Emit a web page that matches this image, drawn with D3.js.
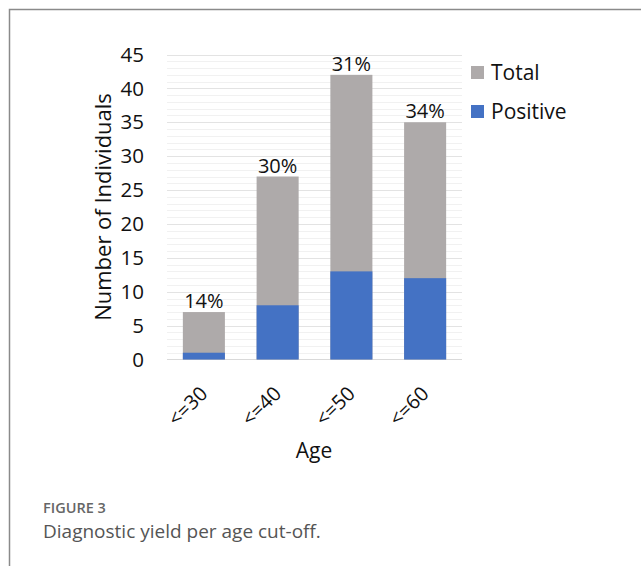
<!DOCTYPE html>
<html>
<head>
<meta charset="utf-8">
<script src="https://cdn.jsdelivr.net/npm/d3@7"></script>
<style>
  body { margin: 0; background: #fff; }
  svg { display: block; }
</style>
</head>
<body>
<div id="chart"></div>
<script>
var width = 641,
    height = 566;

// data
var ages = ["<=30", "<=40", "<=50", "<=60"];
var totals = [7, 27, 42, 35];
var positives = [1, 8, 13, 12];
var yieldLabels = ["14%", "30%", "31%", "34%"];
var yTicks = [0, 5, 10, 15, 20, 25, 30, 35, 40, 45];

var grey = "#AEAAAA",
    blue = "#4472C4";

var svg = d3.select("#chart")
  .append("svg")
    .attr("width", width)
    .attr("height", height);

// frame
svg.append("path")
  .attr("d", "M9.5,566 V9.5 H641")
  .attr("fill", "none")
  .attr("stroke", "#8a8a8a")
  .attr("stroke-width", 1.5);

var plotLeft = 167, plotRight = 462, plotTop = 54.5, plotBottom = 359.5;

var x = d3.scaleBand()
  .domain(ages)
  .range([plotLeft, plotRight])
  .paddingInner(0.43)
  .paddingOuter(0.215);

var y = d3.scaleLinear()
  .domain([0, 45])
  .range([plotBottom, plotTop]);

// minor + major gridlines
svg.append("g")
  .selectAll("line")
  .data(d3.range(1, 46))
  .enter()
  .append("line")
    .attr("x1", plotLeft).attr("x2", plotRight)
    .attr("y1", function(d) { return Math.round(y(d)) + 0.5; })
    .attr("y2", function(d) { return Math.round(y(d)) + 0.5; })
    .attr("stroke", function(d) { return d % 5 === 0 ? "#e3e3e3" : "#f1f1f1"; })
    .attr("stroke-width", 1);

// baseline
svg.append("line")
  .attr("x1", plotLeft).attr("x2", plotRight)
  .attr("y1", y(0)).attr("y2", y(0))
  .attr("stroke", "#d9d9d9");

var rows = ages.map(function(a, i) {
  return { age: a, total: totals[i], pos: positives[i], label: yieldLabels[i] };
});

// total bars (grey, drawn from 0)
svg.selectAll(".tot")
  .data(rows)
  .enter()
  .append("rect")
    .attr("x", function(d) { return x(d.age); })
    .attr("width", x.bandwidth())
    .attr("y", function(d) { return y(d.total); })
    .attr("height", function(d) { return y(0) - y(d.total); })
    .attr("fill", grey);

// positive bars over them
svg.selectAll(".pos")
  .data(rows)
  .enter()
  .append("rect")
    .attr("x", function(d) { return x(d.age); })
    .attr("width", x.bandwidth())
    .attr("y", function(d) { return y(d.pos); })
    .attr("height", function(d) { return y(0) - y(d.pos); })
    .attr("fill", blue);

// percentage labels
svg.selectAll(".pct")
  .data(rows)
  .enter()
  .append("text")
    .attr("x", function(d) { return x(d.age) + x.bandwidth() / 2; })
    .attr("y", function(d) { return y(d.total) - 4; })
    .attr("text-anchor", "middle")
    .style("font-family", "Open Sans, sans-serif")
    .style("font-size", "20px")
    .attr("fill", "#111")
    .text(function(d) { return d.label; });

// y tick labels
svg.selectAll(".ytick")
  .data(yTicks)
  .enter()
  .append("text")
    .attr("x", 144)
    .attr("y", function(d) { return y(d); })
    .attr("dy", "0.35em")
    .attr("text-anchor", "end")
    .style("font-family", "Open Sans, sans-serif")
    .style("font-size", "20.5px")
    .attr("fill", "#111")
    .text(function(d) { return d; });

// y title
svg.append("text")
  .attr("transform", "translate(111," + ((plotTop + plotBottom) / 2) + ") rotate(-90)")
  .attr("text-anchor", "middle")
  .style("font-family", "Open Sans, sans-serif")
  .style("font-size", "22px")
  .attr("fill", "#111")
  .text("Number of Individuals");

// x tick labels, rotated
svg.selectAll(".xtick")
  .data(ages)
  .enter()
  .append("text")
    .attr("transform", function(d) {
      return "translate(" + (x(d) + x.bandwidth() / 2 - 5) + ",385) rotate(-45)";
    })
    .attr("text-anchor", "end")
    .attr("dy", "0.7em")
    .style("font-family", "Open Sans, sans-serif")
    .style("font-size", "20px")
    .attr("fill", "#111")
    .text(function(d) { return d; });

// x title
svg.append("text")
  .attr("x", 314)
  .attr("y", 458)
  .attr("text-anchor", "middle")
  .style("font-family", "Open Sans, sans-serif")
  .style("font-size", "21px")
  .attr("fill", "#111")
  .text("Age");

// legend
var legend = [{ name: "Total", color: grey }, { name: "Positive", color: blue }];
var lg = svg.selectAll(".lg")
  .data(legend)
  .enter()
  .append("g")
    .attr("transform", function(d, i) { return "translate(471," + (66 + i * 39) + ")"; });
lg.append("rect")
  .attr("width", 13).attr("height", 13)
  .attr("fill", function(d) { return d.color; });
lg.append("text")
  .attr("x", 20)
  .attr("y", 7)
  .attr("dy", "0.35em")
  .style("font-family", "Open Sans, sans-serif")
  .style("font-size", "21px")
  .attr("fill", "#111")
  .text(function(d) { return d.name; });

// caption
svg.append("text")
  .attr("x", 43)
  .attr("y", 513)
  .style("font-family", "Open Sans, sans-serif")
  .style("font-size", "14.5px")
  .style("font-weight", "600")
  .attr("fill", "#666")
  .text("FIGURE 3");

svg.append("text")
  .attr("x", 43)
  .attr("y", 538)
  .style("font-family", "Open Sans, sans-serif")
  .style("font-size", "19px")
  .attr("fill", "#555")
  .text("Diagnostic yield per age cut-off.");
</script>
</body>
</html>
